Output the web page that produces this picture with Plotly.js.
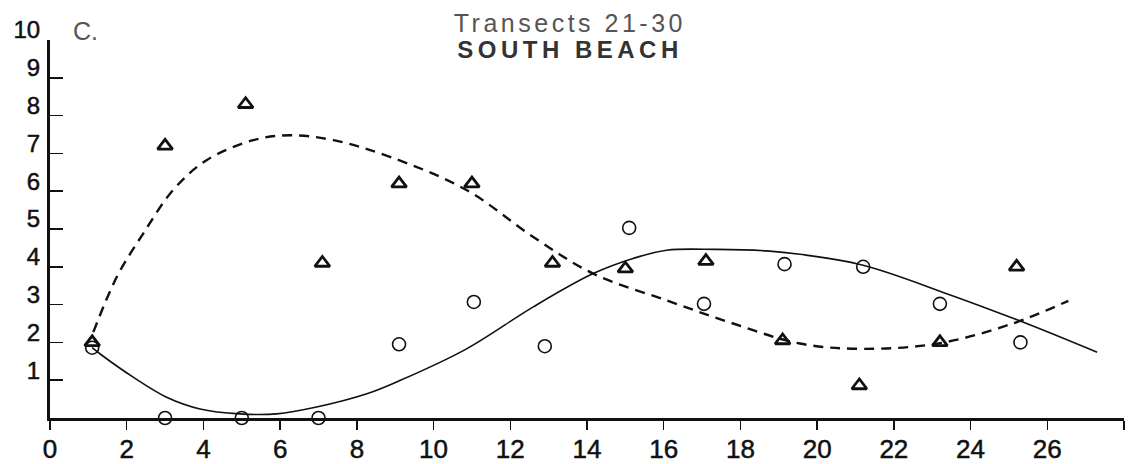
<!DOCTYPE html>
<html>
<head>
<meta charset="utf-8">
<script src="https://cdn.plot.ly/plotly-3.0.1.min.js"></script>
<style>
html, body { margin: 0; padding: 0; background: #fff; }
#chart { width: 1128px; height: 464px; }
.xtick text, .ytick text { stroke: #111; stroke-width: 0.5px; }
</style>
</head>
<body>
<div id="chart"></div>
<script>
// Observed values (transect number vs. value)
const triX = [1.1, 3.0, 5.1, 7.1, 9.1, 11.0, 13.1, 15.0, 17.1, 19.1, 21.1, 23.2, 25.2];
const triY = [2.0, 7.2, 8.3, 4.1, 6.2, 6.2, 4.1, 3.95, 4.15, 2.05, 0.86, 2.0, 4.0];

const circX = [1.1, 3.0, 5.0, 7.0, 9.1, 11.05, 12.9, 15.1, 17.05, 19.15, 21.2, 23.2, 25.3];
const circY = [1.86, 0.0, 0.0, 0.0, 1.95, 3.07, 1.9, 5.03, 3.02, 4.07, 4.0, 3.02, 2.0];

// Fitted curves
const solidX = [1.1, 1.3, 2.17, 3.04, 3.91, 4.95, 5.91, 6.95, 8.26, 9.12, 10.86, 12.6, 14.16, 15.2, 16.08, 17.38, 18.69, 19.55, 21.2, 23.38, 25.46, 27.3];
const solidY = [1.86, 1.7, 1.08, 0.55, 0.24, 0.11, 0.11, 0.29, 0.64, 0.99, 1.83, 2.94, 3.82, 4.22, 4.44, 4.46, 4.42, 4.33, 4.04, 3.29, 2.5, 1.74];

const dashX = [1.13, 1.74, 2.43, 3.21, 4.08, 5.3, 6.26, 7.39, 8.86, 10.86, 12.6, 14.16, 16.08, 17.81, 19.55, 21.2, 23.2, 25.1, 26.55];
const dashY = [2.27, 3.73, 4.88, 6.03, 6.82, 7.35, 7.48, 7.35, 6.91, 6.03, 4.79, 3.82, 3.11, 2.5, 1.97, 1.83, 1.98, 2.5, 3.1];

const xTicks = [0, 2, 4, 6, 8, 10, 12, 14, 16, 18, 20, 22, 24, 26, 28];
const xTickText = ['0', '2', '4', '6', '8', '10', '12', '14', '16', '18', '20', '22', '24', '26', ''];
const yTicks = [1, 2, 3, 4, 5, 6, 7, 8, 9, 10];
const yTickText = ['1', '2', '3', '4', '5', '6', '7', '8', '9', '10'];

const titleLine1 = 'Transects 21-30';
const titleLine2 = 'SOUTH BEACH';
const panelLabel = 'C.';

const FONT = 'Liberation Sans, Arial, sans-serif';

const traces = [
  { x: solidX, y: solidY, mode: 'lines', line: { color: '#111', width: 1.6, shape: 'spline', smoothing: 1 }, hoverinfo: 'skip', showlegend: false },
  { x: dashX, y: dashY, mode: 'lines', line: { color: '#111', width: 2.4, dash: '10px,7px', shape: 'spline', smoothing: 1 }, hoverinfo: 'skip', showlegend: false },
  { x: circX, y: circY, mode: 'markers', marker: { symbol: 'circle-open', size: 13, color: '#111', line: { width: 1.6, color: '#111' } }, cliponaxis: false, showlegend: false },
  { x: triX, y: triY, mode: 'markers', marker: { symbol: 'triangle-up-open', size: 13, color: '#111', line: { width: 2.8, color: '#111' } }, cliponaxis: false, showlegend: false }
];

const layout = {
  width: 1128, height: 464,
  margin: { l: 50, r: 4, t: 40, b: 46 },
  paper_bgcolor: '#fff', plot_bgcolor: '#fff',
  font: { family: FONT, color: '#111' },
  showlegend: false,
  xaxis: {
    range: [0, 28], showgrid: false, zeroline: false,
    showline: true, linecolor: '#111', linewidth: 2.5,
    tickmode: 'array', tickvals: xTicks, ticktext: xTickText,
    ticks: 'outside', ticklen: 9, tickwidth: 1.5, tickcolor: '#111',
    tickfont: { family: FONT, size: 26, color: '#111' },
    ticklabelstandoff: -3
  },
  yaxis: {
    range: [0, 10], showgrid: false, zeroline: false,
    showline: true, linecolor: '#111', linewidth: 3,
    tickmode: 'array', tickvals: yTicks, ticktext: yTickText,
    ticks: 'inside', ticklen: 13, tickwidth: 1.5, tickcolor: '#111',
    tickfont: { family: FONT, size: 24, color: '#111' },
    ticklabelstandoff: 2, ticklabelshift: -10
  },
  annotations: [
    { text: titleLine1, xref: 'paper', yref: 'paper', x: 0.4845, y: 1, yshift: 17, xanchor: 'center', yanchor: 'middle', showarrow: false, font: { family: FONT, size: 25, color: '#555' }, captureevents: false },
    { text: '<b>' + titleLine2 + '</b>', xref: 'paper', yref: 'paper', x: 0.4845, y: 1, yshift: -9, xanchor: 'center', yanchor: 'middle', showarrow: false, font: { family: FONT, size: 24, color: '#333' } },
    { text: panelLabel, xref: 'paper', yref: 'paper', x: 0.02, y: 1, yshift: 9, xanchor: 'left', yanchor: 'middle', showarrow: false, font: { family: FONT, size: 25, color: '#555' } }
  ]
};

Plotly.newPlot('chart', traces, layout, { staticPlot: true }).then(() => {
  document.querySelectorAll('.annotation-text').forEach((el, i) => {
    if (i === 0) el.style.letterSpacing = '3.5px';
    if (i === 1) el.style.letterSpacing = '4.5px';
  });
});
</script>
</body>
</html>
